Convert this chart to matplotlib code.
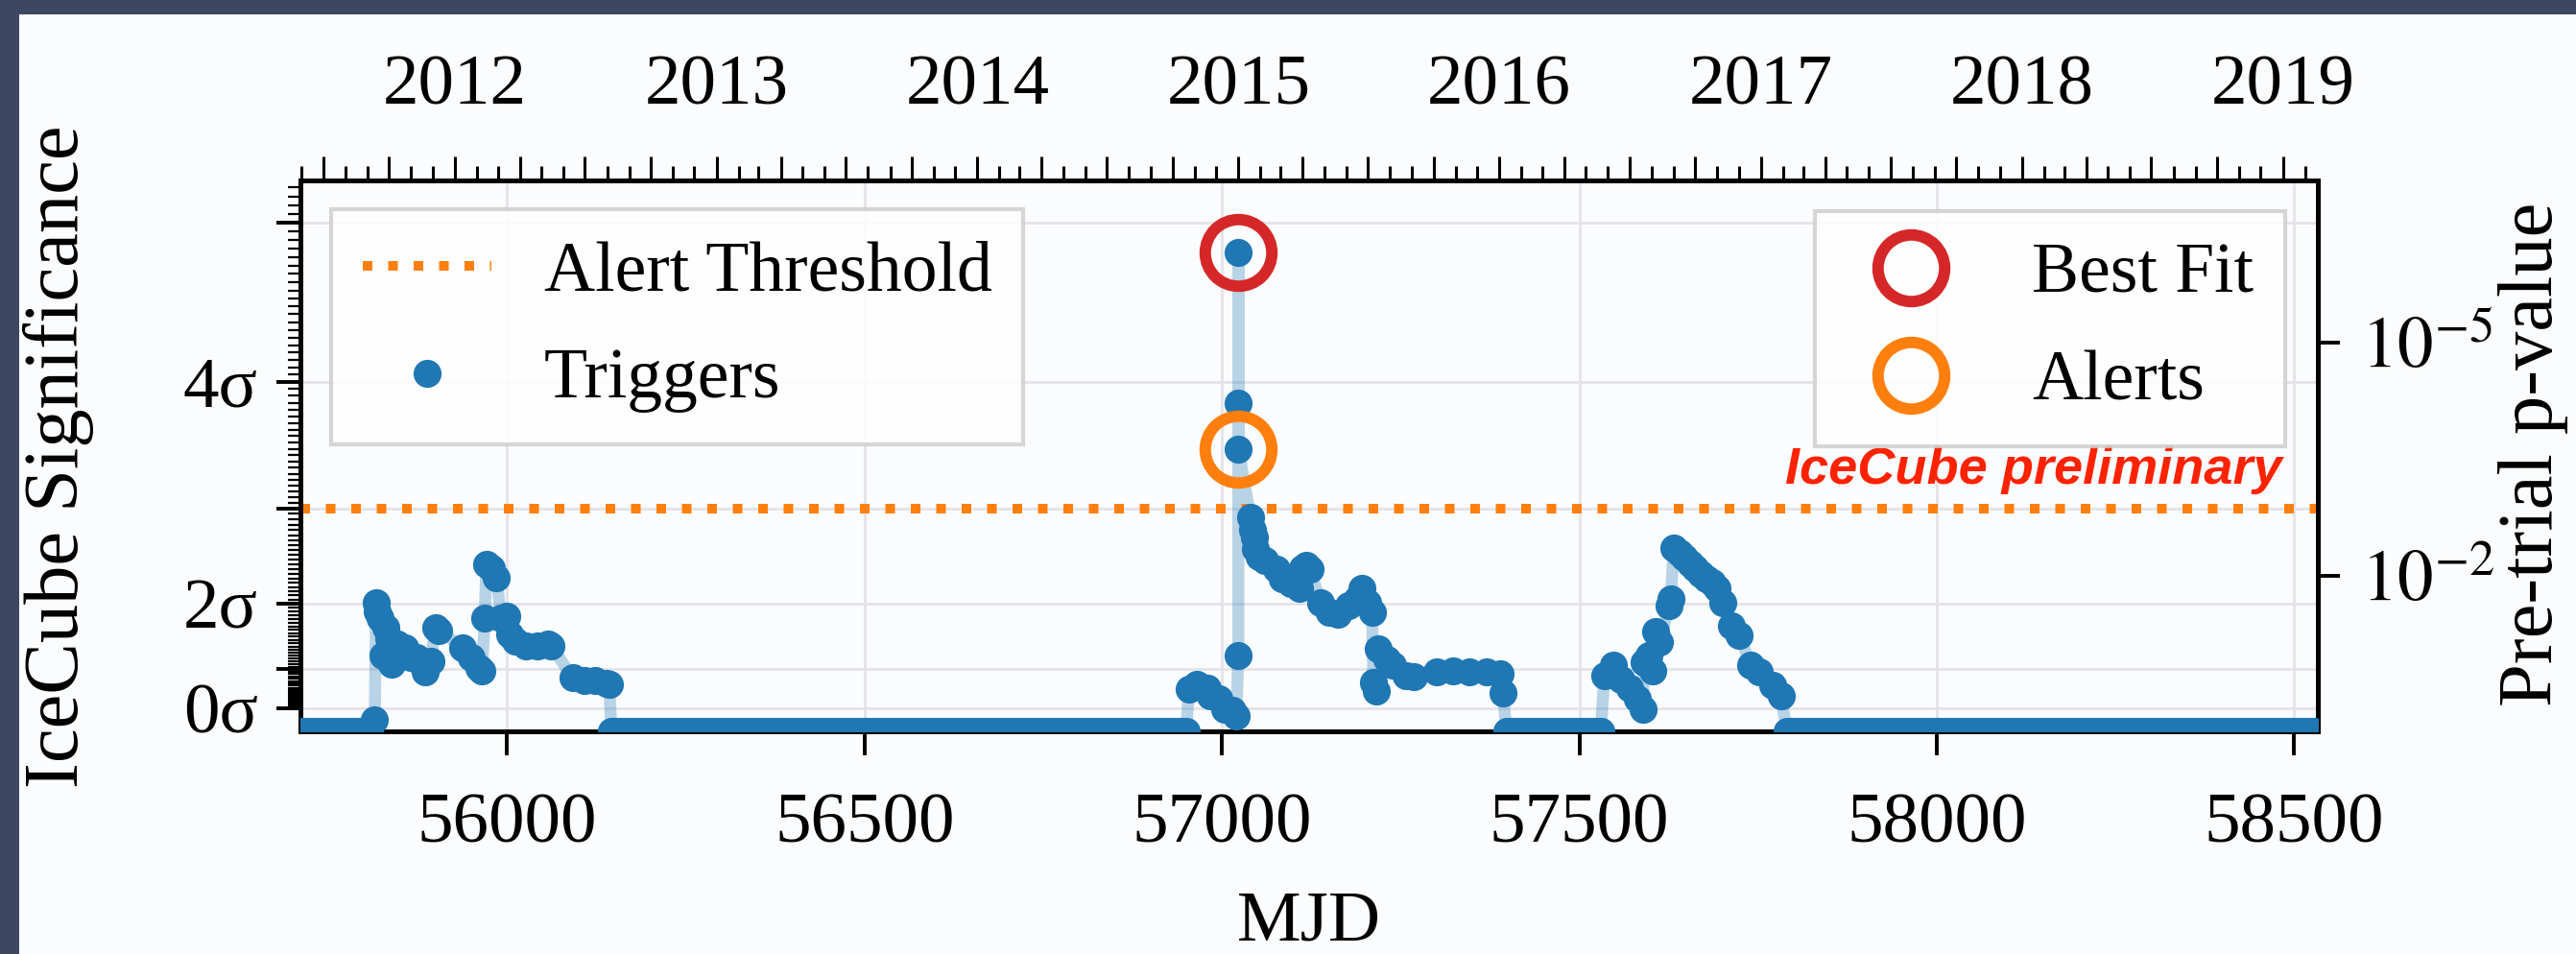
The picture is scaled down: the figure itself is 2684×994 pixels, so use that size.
import math
import datetime as dt
import numpy as np
import matplotlib
matplotlib.use("Agg")
import matplotlib.pyplot as plt
from matplotlib.lines import Line2D
from matplotlib.patches import Rectangle
from matplotlib.ticker import FixedLocator

# ---------------- data (MJD, -log10 pre-trial p-value) ----------------
zero_spans = [(55711, 55812), (56146, 56950), (57398, 57532), (57790, 58533)]
zero_step = 6  # trigger cadence drawn along the zero level

flare1_mjd = [55815, 55817, 55819, 55823, 55826, 55831, 55834, 55838, 55846, 55857,
              55865, 55874, 55881, 55886, 55893, 55900, 55904, 55938, 55950, 55961,
              55965, 55969, 55971, 55978, 55985, 55992, 56000, 56004, 56012, 56027,
              56042, 56058, 56062, 56092, 56108, 56123, 56139, 56143]
flare1_nlp = [0.15, 1.66, 1.55, 1.46, 0.97, 1.33, 1.20, 0.86, 1.12, 1.08,
              0.95, 0.95, 0.86, 0.77, 0.90, 1.33, 1.30, 1.08, 0.95, 0.82,
              0.78, 1.46, 2.15, 2.10, 1.98, 1.46, 1.48, 1.25, 1.16, 1.10,
              1.10, 1.12, 1.10, 0.69, 0.65, 0.65, 0.62, 0.60]

flare2_mjd = [56954, 56965, 56972, 56980, 56984, 56996, 57004, 57015, 57020, 57023,
              57023, 57023, 57023, 57040, 57043, 57045, 57047, 57052, 57060, 57077,
              57085, 57096, 57108, 57112, 57118, 57123, 57138, 57150, 57162, 57177,
              57189, 57196, 57204, 57210, 57212, 57216, 57219, 57231, 57239, 57258,
              57269, 57300, 57323, 57346, 57370, 57389, 57393]
flare2_nlp = [0.54, 0.61, 0.57, 0.55, 0.46, 0.42, 0.29, 0.27, 0.20, 0.97,
              6.165, 4.227, 3.634, 2.75, 2.60, 2.50, 2.35, 2.25, 2.20, 2.09,
              1.97, 1.90, 1.84, 2.10, 2.14, 2.09, 1.66, 1.53, 1.51, 1.62,
              1.71, 1.84, 1.66, 1.53, 0.63, 0.52, 1.06, 0.93, 0.85, 0.72,
              0.70, 0.76, 0.78, 0.76, 0.76, 0.74, 0.50]

flare3_mjd = [57535, 57547, 57558, 57570, 57581, 57589, 57590, 57597, 57602, 57606,
              57612, 57626, 57628, 57632, 57640, 57647, 57655, 57662, 57670, 57678,
              57686, 57693, 57701, 57713, 57724, 57740, 57751, 57771, 57782]
flare3_nlp = [0.72, 0.85, 0.67, 0.55, 0.42, 0.29, 0.89, 0.97, 0.78, 1.28,
              1.15, 1.62, 1.71, 2.36, 2.30, 2.23, 2.16, 2.10, 2.03, 1.97,
              1.92, 1.84, 1.66, 1.36, 1.23, 0.85, 0.76, 0.59, 0.46]

best_fit_mjd = [57023]
best_fit_nlp = [6.165]
alert_mjd = [57023]
alert_nlp = [3.634]

threshold_sigma = 3.0
sigma_ticks = [0, 1, 2, 3, 4, 5]
sigma_labels = ["0σ", "", "2σ", "", "4σ", ""]
pvalue_ticks = [1e-2, 1e-5]
pvalue_labels = [r"$10^{-2}$", r"$10^{-5}$"]
mjd_ticks = [56000, 56500, 57000, 57500, 58000, 58500]
year_labels = [2012, 2013, 2014, 2015, 2016, 2017, 2018, 2019]
x_range = (55711, 58533)
y_range = (0.0, 7.09)

# ---------------- helpers ----------------
def nlp_of_sigma(s):
    return -math.log10(0.5 * math.erfc(s / math.sqrt(2.0)))

MJD0 = dt.date(1858, 11, 17)
def mjd_of(y, m):
    return (dt.date(y, m, 1) - MJD0).days

def zeros(a, b):
    m = list(np.arange(a, b + 1, zero_step))
    return m, [0.0] * len(m)

segs = [zeros(*zero_spans[0]), (flare1_mjd, flare1_nlp),
        zeros(*zero_spans[1]), (flare2_mjd, flare2_nlp),
        zeros(*zero_spans[2]), (flare3_mjd, flare3_nlp),
        zeros(*zero_spans[3])]
trig_mjd = np.concatenate([np.asarray(s[0], float) for s in segs])
trig_nlp = np.concatenate([np.asarray(s[1], float) for s in segs])

# ---------------- style ----------------
plt.rcParams["font.family"] = ["Liberation Serif", "DejaVu Serif"]
plt.rcParams["mathtext.fontset"] = "stix"

BG = "#fbfcfd"
BORDER = "#3e4762"
BLUE = "#1f77b4"
ORANGE = "#ff7f0e"
RED = "#d62728"
FS = 27

W, H = 2684, 994
fig = plt.figure(figsize=(W / 200, H / 200), dpi=200, facecolor=BG)

fig.add_artist(Rectangle((0, 1 - 15 / H), 1, 15 / H, transform=fig.transFigure,
                         color=BORDER, lw=0, zorder=-5))
fig.add_artist(Rectangle((0, 0), 20 / W, 1, transform=fig.transFigure,
                         color=BORDER, lw=0, zorder=-5))

L, R, T, B = 313, 2415, 188, 762
ax = fig.add_axes([L / W, 1 - B / H, (R - L) / W, (B - T) / H])
ax.set_facecolor(BG)
ax.set_xlim(*x_range)
ax.set_ylim(*y_range)
ax.set_axisbelow(True)

ax.plot(trig_mjd, trig_nlp, "-", color=BLUE, alpha=0.3, lw=4.5, zorder=2)
ax.plot(trig_mjd, trig_nlp, "o", color=BLUE, ms=10.5, mew=0, zorder=3)
thr = nlp_of_sigma(threshold_sigma)
ax.axhline(thr, color=ORANGE, ls=":", lw=3.6, zorder=2.5)
ax.plot(best_fit_mjd, best_fit_nlp, "o", ms=25, mfc="none", mec=RED, mew=4.3, zorder=4)
ax.plot(alert_mjd, alert_nlp, "o", ms=25, mfc="none", mec=ORANGE, mew=4.3, zorder=4)

ax.set_xticks(mjd_ticks)
ax.set_xticklabels([str(t) for t in mjd_ticks])
ax.tick_params(axis="x", which="major", direction="out", length=9, width=1.4,
               labelsize=FS, pad=14, top=False)

ax.set_yticks([nlp_of_sigma(s) for s in sigma_ticks])
ax.set_yticklabels(sigma_labels)
minor_sig = [s for s in np.arange(0, 6.0, 0.05) if nlp_of_sigma(s) <= y_range[1]]
ax.yaxis.set_minor_locator(FixedLocator([nlp_of_sigma(s) for s in minor_sig]))
ax.tick_params(axis="y", which="major", direction="out", length=9, width=1.4,
               labelsize=FS, pad=7, right=False)
ax.tick_params(axis="y", which="minor", direction="out", length=4.7, width=0.8,
               right=False)

for sp in ax.spines.values():
    sp.set_linewidth(1.8)
    sp.set_color("black")

ax.grid(True, which="major", color="#e3e3e8", lw=1.0)

top = ax.secondary_xaxis("top")
q_ticks, q_labels, m_ticks = [], [], []
for yy in range(2011, 2020):
    for mm in range(1, 13):
        v = mjd_of(yy, mm)
        if x_range[0] <= v <= x_range[1]:
            if mm in (1, 4, 7, 10):
                q_ticks.append(v)
                q_labels.append(str(yy) if (mm == 1 and yy in year_labels) else "")
            else:
                m_ticks.append(v)
top.set_xticks(q_ticks)
top.set_xticklabels(q_labels)
top.xaxis.set_minor_locator(FixedLocator(m_ticks))
top.tick_params(axis="x", which="major", direction="out", length=9, width=1.1,
                labelsize=FS, pad=14)
top.tick_params(axis="x", which="minor", direction="out", length=5.4, width=1.1)
top.spines["top"].set_linewidth(1.8)

right = ax.secondary_yaxis("right")
right.set_yticks([-math.log10(p) for p in pvalue_ticks])
right.set_yticklabels(pvalue_labels)
right.tick_params(axis="y", which="major", direction="out", length=8.3, width=1.4,
                  labelsize=FS, pad=8)
right.yaxis.set_minor_locator(FixedLocator([]))
right.spines["right"].set_linewidth(1.8)

fig.text(61 / W, 1 - 476 / H, "IceCube Significance", rotation=90, ha="center",
         va="center", fontsize=29)
fig.text(2640 / W, 1 - 473 / H, "Pre-trial p-value", rotation=90, ha="center",
         va="center", fontsize=29)
fig.text(1364 / W, 1 - 962 / H, "MJD", ha="center", va="center", fontsize=FS)

h_thr = Line2D([], [], color=ORANGE, ls=":", lw=3.6)
h_trig = Line2D([], [], color=BLUE, ls="none", marker="o", ms=10.5, mew=0)
h_best = Line2D([], [], ls="none", marker="o", ms=25, mfc="none", mec=RED, mew=4.3)
h_alert = Line2D([], [], ls="none", marker="o", ms=25, mfc="none", mec=ORANGE, mew=4.3)

common = dict(fontsize=26.5, frameon=True, fancybox=False, edgecolor="#cfcfcf",
              framealpha=0.85, borderaxespad=0, handlelength=1.82,
              borderpad=0.45, labelspacing=0.6, numpoints=1)
leg1 = ax.legend([h_thr, h_trig], ["Alert Threshold", "Triggers"], loc="upper left",
                 bbox_to_anchor=((345 - L) / (R - L), (B - 218) / (B - T)),
                 handletextpad=0.74, **common)
leg1.get_frame().set_linewidth(1.5)
ax.add_artist(leg1)
leg2 = ax.legend([h_best, h_alert], ["Best Fit", "Alerts"], loc="upper right",
                 bbox_to_anchor=((2381 - L) / (R - L), (B - 220) / (B - T)),
                 handletextpad=0.8, **common)
leg2.get_frame().set_linewidth(1.5)

ax.text((2378 - L) / (R - L), (B - 490) / (B - T), "IceCube preliminary",
        transform=ax.transAxes, ha="right", va="center", color="#ff2200",
        fontsize=19.5, fontweight="bold", fontstyle="italic",
        family=["Liberation Sans", "DejaVu Sans"], zorder=5)

fig.savefig("out.png", dpi=200, facecolor=BG)
